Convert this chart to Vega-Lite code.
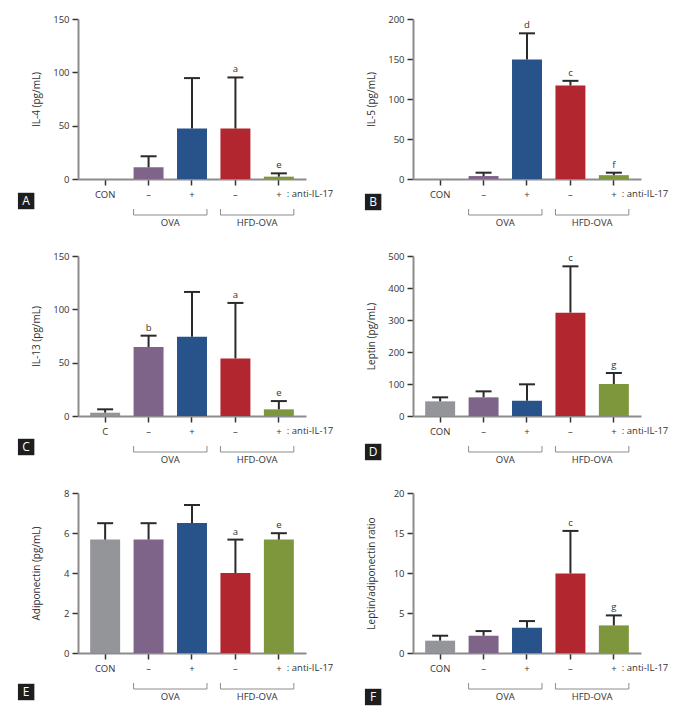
{
 "$schema": "https://vega.github.io/schema/vega-lite/v6.json",
 "padding": {"left": 17, "top": 14, "right": 5, "bottom": 5},
 "background": "white",
 "bounds": "flush",
 "columns": 2,
 "spacing": {"row": 77, "column": 107},
 "datasets": {
  "rows": [
   {"kind": "bar", "panel": "A", "group": "CON", "mean": 0, "upper": null, "letter": null},
   {"kind": "bar", "panel": "A", "group": "OVA-", "mean": 11, "upper": 21.3, "letter": null},
   {"kind": "bar", "panel": "A", "group": "OVA+", "mean": 47.3, "upper": 94.6, "letter": null},
   {"kind": "bar", "panel": "A", "group": "HFD-", "mean": 47.3, "upper": 95.2, "letter": "a"},
   {"kind": "bar", "panel": "A", "group": "HFD+", "mean": 2.2, "upper": 5.3, "letter": "e"},
   {"kind": "bar", "panel": "B", "group": "CON", "mean": 0, "upper": null, "letter": null},
   {"kind": "bar", "panel": "B", "group": "OVA-", "mean": 3.7, "upper": 7.9, "letter": null},
   {"kind": "bar", "panel": "B", "group": "OVA+", "mean": 149.3, "upper": 182.1, "letter": "d"},
   {"kind": "bar", "panel": "B", "group": "HFD-", "mean": 116.8, "upper": 122.7, "letter": "c"},
   {"kind": "bar", "panel": "B", "group": "HFD+", "mean": 4.8, "upper": 7.9, "letter": "f"},
   {"kind": "bar", "panel": "C", "group": "CON", "mean": 3.1, "upper": 6.25, "letter": null},
   {"kind": "bar", "panel": "C", "group": "OVA-", "mean": 64.7, "upper": 75.3, "letter": "b"},
   {"kind": "bar", "panel": "C", "group": "OVA+", "mean": 74.4, "upper": 116.3, "letter": null},
   {"kind": "bar", "panel": "C", "group": "HFD-", "mean": 54, "upper": 106, "letter": "a"},
   {"kind": "bar", "panel": "C", "group": "HFD+", "mean": 6.25, "upper": 14, "letter": "e"},
   {"kind": "bar", "panel": "D", "group": "CON", "mean": 45.8, "upper": 58.3, "letter": null},
   {"kind": "bar", "panel": "D", "group": "OVA-", "mean": 58.3, "upper": 77, "letter": null},
   {"kind": "bar", "panel": "D", "group": "OVA+", "mean": 47.9, "upper": 99, "letter": null},
   {"kind": "bar", "panel": "D", "group": "HFD-", "mean": 322.9, "upper": 467.7, "letter": "c"},
   {"kind": "bar", "panel": "D", "group": "HFD+", "mean": 100, "upper": 134.4, "letter": "g"},
   {"kind": "bar", "panel": "E", "group": "CON", "mean": 5.67, "upper": 6.49, "letter": null},
   {"kind": "bar", "panel": "E", "group": "OVA-", "mean": 5.67, "upper": 6.49, "letter": null},
   {"kind": "bar", "panel": "E", "group": "OVA+", "mean": 6.5, "upper": 7.4, "letter": null},
   {"kind": "bar", "panel": "E", "group": "HFD-", "mean": 4.0, "upper": 5.67, "letter": "a"},
   {"kind": "bar", "panel": "E", "group": "HFD+", "mean": 5.67, "upper": 5.99, "letter": "e"},
   {"kind": "bar", "panel": "F", "group": "CON", "mean": 1.54, "upper": 2.16, "letter": null},
   {"kind": "bar", "panel": "F", "group": "OVA-", "mean": 2.16, "upper": 2.74, "letter": null},
   {"kind": "bar", "panel": "F", "group": "OVA+", "mean": 3.16, "upper": 3.99, "letter": null},
   {"kind": "bar", "panel": "F", "group": "HFD-", "mean": 9.94, "upper": 15.26, "letter": "c"},
   {"kind": "bar", "panel": "F", "group": "HFD+", "mean": 3.45, "upper": 4.7, "letter": "g"},
   {"kind": "bracket", "group": "OVA-", "end": "OVA+", "name": "OVA"},
   {"kind": "bracket", "group": "HFD-", "end": "HFD+", "name": "HFD-OVA"},
   {"kind": "tag", "panel": "A", "group": "CON", "tag": "A"},
   {"kind": "tag", "panel": "B", "group": "CON", "tag": "B"},
   {"kind": "tag", "panel": "C", "group": "CON", "tag": "C"},
   {"kind": "tag", "panel": "D", "group": "CON", "tag": "D"},
   {"kind": "tag", "panel": "E", "group": "CON", "tag": "E"},
   {"kind": "tag", "panel": "F", "group": "CON", "tag": "F"}
  ]
 },
 "concat": [
  {
   "width": 228, "height": 160,
   "data": {"name": "rows"},
   "encoding": {
    "x": {"field": "group", "type": "nominal", "scale": {"domain": ["CON", "OVA-", "OVA+", "HFD-", "HFD+"], "paddingInner": 0.31, "paddingOuter": 0.28}, "axis": {"title": null, "labelExpr": "datum.value == 'CON' ? 'CON' : (indexof(datum.value, '+') >= 0 ? '+' : '–')"}}
   },
   "layer": [
    {"transform": [{"filter": "datum.kind == 'bar' && datum.panel == 'A'"}], "mark": {"type": "bar"}, "encoding": {"y": {"field": "mean", "type": "quantitative", "scale": {"domain": [0, 150], "nice": false}, "axis": {"title": "IL-4 (pg/mL)", "values": [0, 50, 100, 150], "tickCount": 10}}, "color": {"field": "group", "type": "nominal", "scale": {"domain": ["CON", "OVA-", "OVA+", "HFD-", "HFD+"], "range": ["#939598", "#7f6489", "#27538a", "#b2262f", "#7e973d"]}, "legend": null}}},
    {"transform": [{"filter": "datum.kind == 'bar' && datum.panel == 'A' && isValid(datum.upper)"}], "mark": {"type": "rule", "color": "#2a2a2a", "strokeWidth": 2}, "encoding": {"y": {"field": "mean", "type": "quantitative"}, "y2": {"field": "upper"}}},
    {"transform": [{"filter": "datum.kind == 'bar' && datum.panel == 'A' && isValid(datum.upper)"}], "mark": {"type": "tick", "color": "#2a2a2a", "size": 16, "thickness": 2, "opacity": 1}, "encoding": {"y": {"field": "upper", "type": "quantitative"}}},
    {"transform": [{"filter": "datum.kind == 'bar' && datum.panel == 'A' && isValid(datum.letter)"}], "mark": {"type": "text", "baseline": "bottom", "dy": -3, "fontSize": 9.5, "color": "#333"}, "encoding": {"y": {"field": "upper", "type": "quantitative"}, "text": {"field": "letter"}}},
    {"transform": [{"filter": "datum.kind == 'bar' && datum.panel == 'A' && datum.group == 'HFD+'"}], "mark": {"type": "text", "align": "left", "baseline": "middle", "dx": 8, "dy": 15, "fontSize": 9.5, "color": "#333"}, "encoding": {"y": {"datum": 0}, "text": {"value": ": anti-IL-17"}}},
    {"transform": [{"filter": "datum.kind == 'bracket'"}], "mark": {"type": "rule", "color": "#8c8c8c", "strokeWidth": 1, "yOffset": 36}, "encoding": {"x": {"field": "group", "type": "nominal", "bandPosition": 0}, "x2": {"field": "end", "bandPosition": 1}, "y": {"datum": 0}}},
    {"transform": [{"filter": "datum.kind == 'bracket'"}], "mark": {"type": "rule", "color": "#8c8c8c", "strokeWidth": 1, "yOffset": 30, "y2Offset": 36}, "encoding": {"x": {"field": "group", "type": "nominal", "bandPosition": 0}, "y": {"datum": 0}, "y2": {"datum": 0}}},
    {"transform": [{"filter": "datum.kind == 'bracket'"}], "mark": {"type": "rule", "color": "#8c8c8c", "strokeWidth": 1, "yOffset": 30, "y2Offset": 36}, "encoding": {"x": {"field": "end", "type": "nominal", "bandPosition": 1}, "y": {"datum": 0}, "y2": {"datum": 0}}},
    {"transform": [{"filter": "datum.kind == 'bracket'"}], "mark": {"type": "text", "baseline": "middle", "dx": 21.7, "dy": 44, "fontSize": 9.5, "color": "#333"}, "encoding": {"y": {"datum": 0}, "text": {"field": "name"}}},
    {"transform": [{"filter": "datum.kind == 'tag' && datum.panel == 'A'"}], "mark": {"type": "point", "shape": "square", "filled": true, "opacity": 1, "color": "#1e1e1e", "size": 270, "xOffset": -79, "yOffset": 22}, "encoding": {"y": {"datum": 0}}},
    {"transform": [{"filter": "datum.kind == 'tag' && datum.panel == 'A'"}], "mark": {"type": "text", "color": "white", "fontSize": 12, "baseline": "middle", "dx": -79, "dy": 22}, "encoding": {"y": {"datum": 0}, "text": {"field": "tag"}}}
   ]
  },
  {
   "width": 228, "height": 160,
   "data": {"name": "rows"},
   "encoding": {
    "x": {"field": "group", "type": "nominal", "scale": {"domain": ["CON", "OVA-", "OVA+", "HFD-", "HFD+"], "paddingInner": 0.31, "paddingOuter": 0.28}, "axis": {"title": null, "labelExpr": "datum.value == 'CON' ? 'CON' : (indexof(datum.value, '+') >= 0 ? '+' : '–')"}}
   },
   "layer": [
    {"transform": [{"filter": "datum.kind == 'bar' && datum.panel == 'B'"}], "mark": {"type": "bar"}, "encoding": {"y": {"field": "mean", "type": "quantitative", "scale": {"domain": [0, 200], "nice": false}, "axis": {"title": "IL-5 (pg/mL)", "values": [0, 50, 100, 150, 200], "tickCount": 10}}, "color": {"field": "group", "type": "nominal", "scale": {"domain": ["CON", "OVA-", "OVA+", "HFD-", "HFD+"], "range": ["#939598", "#7f6489", "#27538a", "#b2262f", "#7e973d"]}, "legend": null}}},
    {"transform": [{"filter": "datum.kind == 'bar' && datum.panel == 'B' && isValid(datum.upper)"}], "mark": {"type": "rule", "color": "#2a2a2a", "strokeWidth": 2}, "encoding": {"y": {"field": "mean", "type": "quantitative"}, "y2": {"field": "upper"}}},
    {"transform": [{"filter": "datum.kind == 'bar' && datum.panel == 'B' && isValid(datum.upper)"}], "mark": {"type": "tick", "color": "#2a2a2a", "size": 16, "thickness": 2, "opacity": 1}, "encoding": {"y": {"field": "upper", "type": "quantitative"}}},
    {"transform": [{"filter": "datum.kind == 'bar' && datum.panel == 'B' && isValid(datum.letter)"}], "mark": {"type": "text", "baseline": "bottom", "dy": -3, "fontSize": 9.5, "color": "#333"}, "encoding": {"y": {"field": "upper", "type": "quantitative"}, "text": {"field": "letter"}}},
    {"transform": [{"filter": "datum.kind == 'bar' && datum.panel == 'B' && datum.group == 'HFD+'"}], "mark": {"type": "text", "align": "left", "baseline": "middle", "dx": 8, "dy": 15, "fontSize": 9.5, "color": "#333"}, "encoding": {"y": {"datum": 0}, "text": {"value": ": anti-IL-17"}}},
    {"transform": [{"filter": "datum.kind == 'bracket'"}], "mark": {"type": "rule", "color": "#8c8c8c", "strokeWidth": 1, "yOffset": 36}, "encoding": {"x": {"field": "group", "type": "nominal", "bandPosition": 0}, "x2": {"field": "end", "bandPosition": 1}, "y": {"datum": 0}}},
    {"transform": [{"filter": "datum.kind == 'bracket'"}], "mark": {"type": "rule", "color": "#8c8c8c", "strokeWidth": 1, "yOffset": 30, "y2Offset": 36}, "encoding": {"x": {"field": "group", "type": "nominal", "bandPosition": 0}, "y": {"datum": 0}, "y2": {"datum": 0}}},
    {"transform": [{"filter": "datum.kind == 'bracket'"}], "mark": {"type": "rule", "color": "#8c8c8c", "strokeWidth": 1, "yOffset": 30, "y2Offset": 36}, "encoding": {"x": {"field": "end", "type": "nominal", "bandPosition": 1}, "y": {"datum": 0}, "y2": {"datum": 0}}},
    {"transform": [{"filter": "datum.kind == 'bracket'"}], "mark": {"type": "text", "baseline": "middle", "dx": 21.7, "dy": 44, "fontSize": 9.5, "color": "#333"}, "encoding": {"y": {"datum": 0}, "text": {"field": "name"}}},
    {"transform": [{"filter": "datum.kind == 'tag' && datum.panel == 'B'"}], "mark": {"type": "point", "shape": "square", "filled": true, "opacity": 1, "color": "#1e1e1e", "size": 270, "xOffset": -67, "yOffset": 23}, "encoding": {"y": {"datum": 0}}},
    {"transform": [{"filter": "datum.kind == 'tag' && datum.panel == 'B'"}], "mark": {"type": "text", "color": "white", "fontSize": 12, "baseline": "middle", "dx": -67, "dy": 23}, "encoding": {"y": {"datum": 0}, "text": {"field": "tag"}}}
   ]
  },
  {
   "width": 228, "height": 160,
   "data": {"name": "rows"},
   "encoding": {
    "x": {"field": "group", "type": "nominal", "scale": {"domain": ["CON", "OVA-", "OVA+", "HFD-", "HFD+"], "paddingInner": 0.31, "paddingOuter": 0.28}, "axis": {"title": null, "labelExpr": "datum.value == 'CON' ? 'C' : (indexof(datum.value, '+') >= 0 ? '+' : '–')"}}
   },
   "layer": [
    {"transform": [{"filter": "datum.kind == 'bar' && datum.panel == 'C'"}], "mark": {"type": "bar"}, "encoding": {"y": {"field": "mean", "type": "quantitative", "scale": {"domain": [0, 150], "nice": false}, "axis": {"title": "IL-13 (pg/mL)", "values": [0, 50, 100, 150], "tickCount": 10}}, "color": {"field": "group", "type": "nominal", "scale": {"domain": ["CON", "OVA-", "OVA+", "HFD-", "HFD+"], "range": ["#939598", "#7f6489", "#27538a", "#b2262f", "#7e973d"]}, "legend": null}}},
    {"transform": [{"filter": "datum.kind == 'bar' && datum.panel == 'C' && isValid(datum.upper)"}], "mark": {"type": "rule", "color": "#2a2a2a", "strokeWidth": 2}, "encoding": {"y": {"field": "mean", "type": "quantitative"}, "y2": {"field": "upper"}}},
    {"transform": [{"filter": "datum.kind == 'bar' && datum.panel == 'C' && isValid(datum.upper)"}], "mark": {"type": "tick", "color": "#2a2a2a", "size": 16, "thickness": 2, "opacity": 1}, "encoding": {"y": {"field": "upper", "type": "quantitative"}}},
    {"transform": [{"filter": "datum.kind == 'bar' && datum.panel == 'C' && isValid(datum.letter)"}], "mark": {"type": "text", "baseline": "bottom", "dy": -3, "fontSize": 9.5, "color": "#333"}, "encoding": {"y": {"field": "upper", "type": "quantitative"}, "text": {"field": "letter"}}},
    {"transform": [{"filter": "datum.kind == 'bar' && datum.panel == 'C' && datum.group == 'HFD+'"}], "mark": {"type": "text", "align": "left", "baseline": "middle", "dx": 8, "dy": 15, "fontSize": 9.5, "color": "#333"}, "encoding": {"y": {"datum": 0}, "text": {"value": ": anti-IL-17"}}},
    {"transform": [{"filter": "datum.kind == 'bracket'"}], "mark": {"type": "rule", "color": "#8c8c8c", "strokeWidth": 1, "yOffset": 36}, "encoding": {"x": {"field": "group", "type": "nominal", "bandPosition": 0}, "x2": {"field": "end", "bandPosition": 1}, "y": {"datum": 0}}},
    {"transform": [{"filter": "datum.kind == 'bracket'"}], "mark": {"type": "rule", "color": "#8c8c8c", "strokeWidth": 1, "yOffset": 30, "y2Offset": 36}, "encoding": {"x": {"field": "group", "type": "nominal", "bandPosition": 0}, "y": {"datum": 0}, "y2": {"datum": 0}}},
    {"transform": [{"filter": "datum.kind == 'bracket'"}], "mark": {"type": "rule", "color": "#8c8c8c", "strokeWidth": 1, "yOffset": 30, "y2Offset": 36}, "encoding": {"x": {"field": "end", "type": "nominal", "bandPosition": 1}, "y": {"datum": 0}, "y2": {"datum": 0}}},
    {"transform": [{"filter": "datum.kind == 'bracket'"}], "mark": {"type": "text", "baseline": "middle", "dx": 21.7, "dy": 44, "fontSize": 9.5, "color": "#333"}, "encoding": {"y": {"datum": 0}, "text": {"field": "name"}}},
    {"transform": [{"filter": "datum.kind == 'tag' && datum.panel == 'C'"}], "mark": {"type": "point", "shape": "square", "filled": true, "opacity": 1, "color": "#1e1e1e", "size": 270, "xOffset": -79, "yOffset": 31}, "encoding": {"y": {"datum": 0}}},
    {"transform": [{"filter": "datum.kind == 'tag' && datum.panel == 'C'"}], "mark": {"type": "text", "color": "white", "fontSize": 12, "baseline": "middle", "dx": -79, "dy": 31}, "encoding": {"y": {"datum": 0}, "text": {"field": "tag"}}}
   ]
  },
  {
   "width": 228, "height": 160,
   "data": {"name": "rows"},
   "encoding": {
    "x": {"field": "group", "type": "nominal", "scale": {"domain": ["CON", "OVA-", "OVA+", "HFD-", "HFD+"], "paddingInner": 0.31, "paddingOuter": 0.28}, "axis": {"title": null, "labelExpr": "datum.value == 'CON' ? 'CON' : (indexof(datum.value, '+') >= 0 ? '+' : '–')"}}
   },
   "layer": [
    {"transform": [{"filter": "datum.kind == 'bar' && datum.panel == 'D'"}], "mark": {"type": "bar"}, "encoding": {"y": {"field": "mean", "type": "quantitative", "scale": {"domain": [0, 500], "nice": false}, "axis": {"title": "Leptin (pg/mL)", "values": [0, 100, 200, 300, 400, 500], "tickCount": 10}}, "color": {"field": "group", "type": "nominal", "scale": {"domain": ["CON", "OVA-", "OVA+", "HFD-", "HFD+"], "range": ["#939598", "#7f6489", "#27538a", "#b2262f", "#7e973d"]}, "legend": null}}},
    {"transform": [{"filter": "datum.kind == 'bar' && datum.panel == 'D' && isValid(datum.upper)"}], "mark": {"type": "rule", "color": "#2a2a2a", "strokeWidth": 2}, "encoding": {"y": {"field": "mean", "type": "quantitative"}, "y2": {"field": "upper"}}},
    {"transform": [{"filter": "datum.kind == 'bar' && datum.panel == 'D' && isValid(datum.upper)"}], "mark": {"type": "tick", "color": "#2a2a2a", "size": 16, "thickness": 2, "opacity": 1}, "encoding": {"y": {"field": "upper", "type": "quantitative"}}},
    {"transform": [{"filter": "datum.kind == 'bar' && datum.panel == 'D' && isValid(datum.letter)"}], "mark": {"type": "text", "baseline": "bottom", "dy": -3, "fontSize": 9.5, "color": "#333"}, "encoding": {"y": {"field": "upper", "type": "quantitative"}, "text": {"field": "letter"}}},
    {"transform": [{"filter": "datum.kind == 'bar' && datum.panel == 'D' && datum.group == 'HFD+'"}], "mark": {"type": "text", "align": "left", "baseline": "middle", "dx": 8, "dy": 15, "fontSize": 9.5, "color": "#333"}, "encoding": {"y": {"datum": 0}, "text": {"value": ": anti-IL-17"}}},
    {"transform": [{"filter": "datum.kind == 'bracket'"}], "mark": {"type": "rule", "color": "#8c8c8c", "strokeWidth": 1, "yOffset": 36}, "encoding": {"x": {"field": "group", "type": "nominal", "bandPosition": 0}, "x2": {"field": "end", "bandPosition": 1}, "y": {"datum": 0}}},
    {"transform": [{"filter": "datum.kind == 'bracket'"}], "mark": {"type": "rule", "color": "#8c8c8c", "strokeWidth": 1, "yOffset": 30, "y2Offset": 36}, "encoding": {"x": {"field": "group", "type": "nominal", "bandPosition": 0}, "y": {"datum": 0}, "y2": {"datum": 0}}},
    {"transform": [{"filter": "datum.kind == 'bracket'"}], "mark": {"type": "rule", "color": "#8c8c8c", "strokeWidth": 1, "yOffset": 30, "y2Offset": 36}, "encoding": {"x": {"field": "end", "type": "nominal", "bandPosition": 1}, "y": {"datum": 0}, "y2": {"datum": 0}}},
    {"transform": [{"filter": "datum.kind == 'bracket'"}], "mark": {"type": "text", "baseline": "middle", "dx": 21.7, "dy": 44, "fontSize": 9.5, "color": "#333"}, "encoding": {"y": {"datum": 0}, "text": {"field": "name"}}},
    {"transform": [{"filter": "datum.kind == 'tag' && datum.panel == 'D'"}], "mark": {"type": "point", "shape": "square", "filled": true, "opacity": 1, "color": "#1e1e1e", "size": 270, "xOffset": -67, "yOffset": 36}, "encoding": {"y": {"datum": 0}}},
    {"transform": [{"filter": "datum.kind == 'tag' && datum.panel == 'D'"}], "mark": {"type": "text", "color": "white", "fontSize": 12, "baseline": "middle", "dx": -67, "dy": 36}, "encoding": {"y": {"datum": 0}, "text": {"field": "tag"}}}
   ]
  },
  {
   "width": 228, "height": 160,
   "data": {"name": "rows"},
   "encoding": {
    "x": {"field": "group", "type": "nominal", "scale": {"domain": ["CON", "OVA-", "OVA+", "HFD-", "HFD+"], "paddingInner": 0.31, "paddingOuter": 0.28}, "axis": {"title": null, "labelExpr": "datum.value == 'CON' ? 'CON' : (indexof(datum.value, '+') >= 0 ? '+' : '–')"}}
   },
   "layer": [
    {"transform": [{"filter": "datum.kind == 'bar' && datum.panel == 'E'"}], "mark": {"type": "bar"}, "encoding": {"y": {"field": "mean", "type": "quantitative", "scale": {"domain": [0, 8], "nice": false}, "axis": {"title": "Adiponectin (pg/mL)", "values": [0, 2, 4, 6, 8], "tickCount": 10}}, "color": {"field": "group", "type": "nominal", "scale": {"domain": ["CON", "OVA-", "OVA+", "HFD-", "HFD+"], "range": ["#939598", "#7f6489", "#27538a", "#b2262f", "#7e973d"]}, "legend": null}}},
    {"transform": [{"filter": "datum.kind == 'bar' && datum.panel == 'E' && isValid(datum.upper)"}], "mark": {"type": "rule", "color": "#2a2a2a", "strokeWidth": 2}, "encoding": {"y": {"field": "mean", "type": "quantitative"}, "y2": {"field": "upper"}}},
    {"transform": [{"filter": "datum.kind == 'bar' && datum.panel == 'E' && isValid(datum.upper)"}], "mark": {"type": "tick", "color": "#2a2a2a", "size": 16, "thickness": 2, "opacity": 1}, "encoding": {"y": {"field": "upper", "type": "quantitative"}}},
    {"transform": [{"filter": "datum.kind == 'bar' && datum.panel == 'E' && isValid(datum.letter)"}], "mark": {"type": "text", "baseline": "bottom", "dy": -3, "fontSize": 9.5, "color": "#333"}, "encoding": {"y": {"field": "upper", "type": "quantitative"}, "text": {"field": "letter"}}},
    {"transform": [{"filter": "datum.kind == 'bar' && datum.panel == 'E' && datum.group == 'HFD+'"}], "mark": {"type": "text", "align": "left", "baseline": "middle", "dx": 8, "dy": 15, "fontSize": 9.5, "color": "#333"}, "encoding": {"y": {"datum": 0}, "text": {"value": ": anti-IL-17"}}},
    {"transform": [{"filter": "datum.kind == 'bracket'"}], "mark": {"type": "rule", "color": "#8c8c8c", "strokeWidth": 1, "yOffset": 36}, "encoding": {"x": {"field": "group", "type": "nominal", "bandPosition": 0}, "x2": {"field": "end", "bandPosition": 1}, "y": {"datum": 0}}},
    {"transform": [{"filter": "datum.kind == 'bracket'"}], "mark": {"type": "rule", "color": "#8c8c8c", "strokeWidth": 1, "yOffset": 30, "y2Offset": 36}, "encoding": {"x": {"field": "group", "type": "nominal", "bandPosition": 0}, "y": {"datum": 0}, "y2": {"datum": 0}}},
    {"transform": [{"filter": "datum.kind == 'bracket'"}], "mark": {"type": "rule", "color": "#8c8c8c", "strokeWidth": 1, "yOffset": 30, "y2Offset": 36}, "encoding": {"x": {"field": "end", "type": "nominal", "bandPosition": 1}, "y": {"datum": 0}, "y2": {"datum": 0}}},
    {"transform": [{"filter": "datum.kind == 'bracket'"}], "mark": {"type": "text", "baseline": "middle", "dx": 21.7, "dy": 44, "fontSize": 9.5, "color": "#333"}, "encoding": {"y": {"datum": 0}, "text": {"field": "name"}}},
    {"transform": [{"filter": "datum.kind == 'tag' && datum.panel == 'E'"}], "mark": {"type": "point", "shape": "square", "filled": true, "opacity": 1, "color": "#1e1e1e", "size": 270, "xOffset": -79, "yOffset": 39}, "encoding": {"y": {"datum": 0}}},
    {"transform": [{"filter": "datum.kind == 'tag' && datum.panel == 'E'"}], "mark": {"type": "text", "color": "white", "fontSize": 12, "baseline": "middle", "dx": -79, "dy": 39}, "encoding": {"y": {"datum": 0}, "text": {"field": "tag"}}}
   ]
  },
  {
   "width": 228, "height": 160,
   "data": {"name": "rows"},
   "encoding": {
    "x": {"field": "group", "type": "nominal", "scale": {"domain": ["CON", "OVA-", "OVA+", "HFD-", "HFD+"], "paddingInner": 0.31, "paddingOuter": 0.28}, "axis": {"title": null, "labelExpr": "datum.value == 'CON' ? 'CON' : (indexof(datum.value, '+') >= 0 ? '+' : '–')"}}
   },
   "layer": [
    {"transform": [{"filter": "datum.kind == 'bar' && datum.panel == 'F'"}], "mark": {"type": "bar"}, "encoding": {"y": {"field": "mean", "type": "quantitative", "scale": {"domain": [0, 20], "nice": false}, "axis": {"title": "Leptin/adiponectin ratio", "values": [0, 5, 10, 15, 20], "tickCount": 10}}, "color": {"field": "group", "type": "nominal", "scale": {"domain": ["CON", "OVA-", "OVA+", "HFD-", "HFD+"], "range": ["#939598", "#7f6489", "#27538a", "#b2262f", "#7e973d"]}, "legend": null}}},
    {"transform": [{"filter": "datum.kind == 'bar' && datum.panel == 'F' && isValid(datum.upper)"}], "mark": {"type": "rule", "color": "#2a2a2a", "strokeWidth": 2}, "encoding": {"y": {"field": "mean", "type": "quantitative"}, "y2": {"field": "upper"}}},
    {"transform": [{"filter": "datum.kind == 'bar' && datum.panel == 'F' && isValid(datum.upper)"}], "mark": {"type": "tick", "color": "#2a2a2a", "size": 16, "thickness": 2, "opacity": 1}, "encoding": {"y": {"field": "upper", "type": "quantitative"}}},
    {"transform": [{"filter": "datum.kind == 'bar' && datum.panel == 'F' && isValid(datum.letter)"}], "mark": {"type": "text", "baseline": "bottom", "dy": -3, "fontSize": 9.5, "color": "#333"}, "encoding": {"y": {"field": "upper", "type": "quantitative"}, "text": {"field": "letter"}}},
    {"transform": [{"filter": "datum.kind == 'bar' && datum.panel == 'F' && datum.group == 'HFD+'"}], "mark": {"type": "text", "align": "left", "baseline": "middle", "dx": 8, "dy": 15, "fontSize": 9.5, "color": "#333"}, "encoding": {"y": {"datum": 0}, "text": {"value": ": anti-IL-17"}}},
    {"transform": [{"filter": "datum.kind == 'bracket'"}], "mark": {"type": "rule", "color": "#8c8c8c", "strokeWidth": 1, "yOffset": 36}, "encoding": {"x": {"field": "group", "type": "nominal", "bandPosition": 0}, "x2": {"field": "end", "bandPosition": 1}, "y": {"datum": 0}}},
    {"transform": [{"filter": "datum.kind == 'bracket'"}], "mark": {"type": "rule", "color": "#8c8c8c", "strokeWidth": 1, "yOffset": 30, "y2Offset": 36}, "encoding": {"x": {"field": "group", "type": "nominal", "bandPosition": 0}, "y": {"datum": 0}, "y2": {"datum": 0}}},
    {"transform": [{"filter": "datum.kind == 'bracket'"}], "mark": {"type": "rule", "color": "#8c8c8c", "strokeWidth": 1, "yOffset": 30, "y2Offset": 36}, "encoding": {"x": {"field": "end", "type": "nominal", "bandPosition": 1}, "y": {"datum": 0}, "y2": {"datum": 0}}},
    {"transform": [{"filter": "datum.kind == 'bracket'"}], "mark": {"type": "text", "baseline": "middle", "dx": 21.7, "dy": 44, "fontSize": 9.5, "color": "#333"}, "encoding": {"y": {"datum": 0}, "text": {"field": "name"}}},
    {"transform": [{"filter": "datum.kind == 'tag' && datum.panel == 'F'"}], "mark": {"type": "point", "shape": "square", "filled": true, "opacity": 1, "color": "#1e1e1e", "size": 270, "xOffset": -67, "yOffset": 44}, "encoding": {"y": {"datum": 0}}},
    {"transform": [{"filter": "datum.kind == 'tag' && datum.panel == 'F'"}], "mark": {"type": "text", "color": "white", "fontSize": 12, "baseline": "middle", "dx": -67, "dy": 44}, "encoding": {"y": {"datum": 0}, "text": {"field": "tag"}}}
   ]
  }
 ],
 "config": {
  "font": "Open Sans",
  "view": {"stroke": null},
  "axis": {"domainColor": "#8c8c8c", "domainWidth": 2, "tickColor": "#333333", "tickWidth": 1.5, "tickSize": 6, "labelFont": "Open Sans", "labelFontSize": 9.5, "labelColor": "#333333", "titleFont": "Open Sans", "titleFontSize": 10, "titleFontWeight": "normal", "titleColor": "#333333", "grid": false},
  "axisY": {"titleX": -37, "labelPadding": 3},
  "axisX": {"labelPadding": 4, "labelAngle": 0}
 }
}
